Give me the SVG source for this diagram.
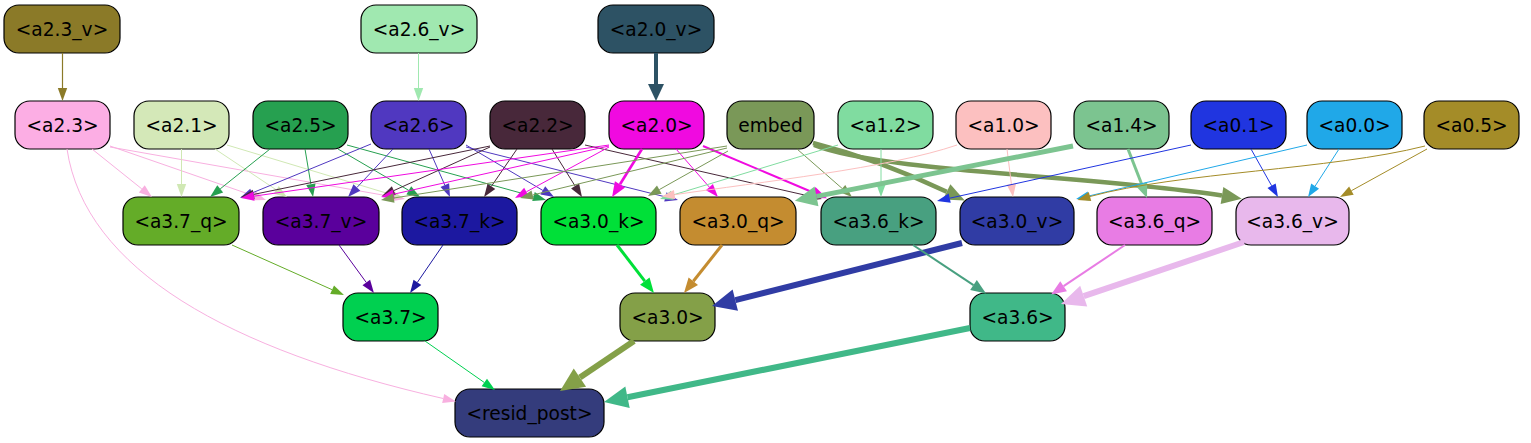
<svg xmlns="http://www.w3.org/2000/svg" width="1531" height="443" viewBox="0 0 1531 443">
<style>
.n rect{stroke:#000;stroke-width:1.2}
.n text{font-family:"DejaVu Sans","Liberation Sans",sans-serif;font-size:18.6px;text-anchor:middle;fill:#000}
.e path{fill:none}
marker{overflow:visible}
</style>
<defs>
<marker id="s23v" markerUnits="userSpaceOnUse" orient="auto" markerWidth="1" markerHeight="1"><path d="M0,-4.7L13,0L0,4.7z" fill="#8b7a28"/></marker>
<marker id="s26v" markerUnits="userSpaceOnUse" orient="auto" markerWidth="1" markerHeight="1"><path d="M0,-4.7L13,0L0,4.7z" fill="#a0e8b0"/></marker>
<marker id="t20v" markerUnits="userSpaceOnUse" orient="auto" markerWidth="1" markerHeight="1"><path d="M0,-8L17,0L0,8z" fill="#2d5264"/></marker>
<marker id="s23" markerUnits="userSpaceOnUse" orient="auto" markerWidth="1" markerHeight="1"><path d="M0,-4.7L13,0L0,4.7z" fill="#f8b0e0"/></marker>
<marker id="s21" markerUnits="userSpaceOnUse" orient="auto" markerWidth="1" markerHeight="1"><path d="M0,-4.7L13,0L0,4.7z" fill="#d0e8b4"/></marker>
<marker id="s25" markerUnits="userSpaceOnUse" orient="auto" markerWidth="1" markerHeight="1"><path d="M0,-4.7L13,0L0,4.7z" fill="#26a050"/></marker>
<marker id="s26" markerUnits="userSpaceOnUse" orient="auto" markerWidth="1" markerHeight="1"><path d="M0,-4.7L13,0L0,4.7z" fill="#5038c0"/></marker>
<marker id="s22" markerUnits="userSpaceOnUse" orient="auto" markerWidth="1" markerHeight="1"><path d="M0,-4.7L13,0L0,4.7z" fill="#48283a"/></marker>
<marker id="s20" markerUnits="userSpaceOnUse" orient="auto" markerWidth="1" markerHeight="1"><path d="M0,-4.7L13,0L0,4.7z" fill="#f00ae0"/></marker>
<marker id="m20" markerUnits="userSpaceOnUse" orient="auto" markerWidth="1" markerHeight="1"><path d="M0,-6L15,0L0,6z" fill="#f00ae0"/></marker>
<marker id="sem" markerUnits="userSpaceOnUse" orient="auto" markerWidth="1" markerHeight="1"><path d="M0,-4.7L13,0L0,4.7z" fill="#7a9858"/></marker>
<marker id="tem" markerUnits="userSpaceOnUse" orient="auto" markerWidth="1" markerHeight="1"><path d="M0,-8.5L20,0L0,8.5z" fill="#7a9858"/></marker>
<marker id="s12" markerUnits="userSpaceOnUse" orient="auto" markerWidth="1" markerHeight="1"><path d="M0,-4.7L13,0L0,4.7z" fill="#80dca0"/></marker>
<marker id="s10" markerUnits="userSpaceOnUse" orient="auto" markerWidth="1" markerHeight="1"><path d="M0,-4.7L13,0L0,4.7z" fill="#fcc0c0"/></marker>
<marker id="m14" markerUnits="userSpaceOnUse" orient="auto" markerWidth="1" markerHeight="1"><path d="M0,-6L15,0L0,6z" fill="#7cc490"/></marker>
<marker id="t14" markerUnits="userSpaceOnUse" orient="auto" markerWidth="1" markerHeight="1"><path d="M0,-10L22,0L0,10z" fill="#7cc490"/></marker>
<marker id="s01" markerUnits="userSpaceOnUse" orient="auto" markerWidth="1" markerHeight="1"><path d="M0,-4.7L13,0L0,4.7z" fill="#2035e0"/></marker>
<marker id="s00" markerUnits="userSpaceOnUse" orient="auto" markerWidth="1" markerHeight="1"><path d="M0,-4.7L13,0L0,4.7z" fill="#20a8e8"/></marker>
<marker id="s05" markerUnits="userSpaceOnUse" orient="auto" markerWidth="1" markerHeight="1"><path d="M0,-4.7L13,0L0,4.7z" fill="#a48c28"/></marker>
<marker id="s37q" markerUnits="userSpaceOnUse" orient="auto" markerWidth="1" markerHeight="1"><path d="M0,-4.7L13,0L0,4.7z" fill="#64ac28"/></marker>
<marker id="s37v" markerUnits="userSpaceOnUse" orient="auto" markerWidth="1" markerHeight="1"><path d="M0,-4.7L13,0L0,4.7z" fill="#5a009c"/></marker>
<marker id="s37k" markerUnits="userSpaceOnUse" orient="auto" markerWidth="1" markerHeight="1"><path d="M0,-4.7L13,0L0,4.7z" fill="#1c18a0"/></marker>
<marker id="m30k" markerUnits="userSpaceOnUse" orient="auto" markerWidth="1" markerHeight="1"><path d="M0,-6L15,0L0,6z" fill="#00e038"/></marker>
<marker id="m30q" markerUnits="userSpaceOnUse" orient="auto" markerWidth="1" markerHeight="1"><path d="M0,-6L15,0L0,6z" fill="#c48c30"/></marker>
<marker id="t30v" markerUnits="userSpaceOnUse" orient="auto" markerWidth="1" markerHeight="1"><path d="M0,-11L24,0L0,11z" fill="#303ca4"/></marker>
<marker id="m36k" markerUnits="userSpaceOnUse" orient="auto" markerWidth="1" markerHeight="1"><path d="M0,-6L15,0L0,6z" fill="#48a080"/></marker>
<marker id="m36q" markerUnits="userSpaceOnUse" orient="auto" markerWidth="1" markerHeight="1"><path d="M0,-6L15,0L0,6z" fill="#e87ce4"/></marker>
<marker id="t36v" markerUnits="userSpaceOnUse" orient="auto" markerWidth="1" markerHeight="1"><path d="M0,-11L24,0L0,11z" fill="#e8b8ec"/></marker>
<marker id="s37" markerUnits="userSpaceOnUse" orient="auto" markerWidth="1" markerHeight="1"><path d="M0,-4.7L13,0L0,4.7z" fill="#00d050"/></marker>
<marker id="t30" markerUnits="userSpaceOnUse" orient="auto" markerWidth="1" markerHeight="1"><path d="M0,-11L24,0L0,11z" fill="#84a048"/></marker>
<marker id="t36" markerUnits="userSpaceOnUse" orient="auto" markerWidth="1" markerHeight="1"><path d="M0,-11L24,0L0,11z" fill="#40b888"/></marker>
</defs>
<rect width="1531" height="443" fill="#fff"/>
<g id="nodes">
<g id="a2.3_v" class="n"><rect x="4" y="5" width="116" height="48" rx="15" fill="#8b7a28"/><text x="62" y="35.5">&lt;a2.3_v&gt;</text></g>
<g id="a2.6_v" class="n"><rect x="361" y="5" width="116" height="48" rx="15" fill="#a0e8b0"/><text x="419" y="35.5">&lt;a2.6_v&gt;</text></g>
<g id="a2.0_v" class="n"><rect x="598" y="5" width="116" height="48" rx="15" fill="#2d5264"/><text x="656" y="35.5">&lt;a2.0_v&gt;</text></g>
<g id="a2.3" class="n"><rect x="15" y="101" width="95" height="48" rx="15" fill="#fcaee4"/><text x="62.5" y="131.5">&lt;a2.3&gt;</text></g>
<g id="a2.1" class="n"><rect x="134" y="101" width="95" height="48" rx="15" fill="#d4e8b8"/><text x="181.5" y="131.5">&lt;a2.1&gt;</text></g>
<g id="a2.5" class="n"><rect x="253" y="101" width="95" height="48" rx="15" fill="#26a050"/><text x="300.5" y="131.5">&lt;a2.5&gt;</text></g>
<g id="a2.6" class="n"><rect x="371" y="101" width="95" height="48" rx="15" fill="#5038c0"/><text x="418.5" y="131.5">&lt;a2.6&gt;</text></g>
<g id="a2.2" class="n"><rect x="490" y="101" width="95" height="48" rx="15" fill="#48283a"/><text x="537.5" y="131.5">&lt;a2.2&gt;</text></g>
<g id="a2.0" class="n"><rect x="609" y="101" width="95" height="48" rx="15" fill="#f00ae0"/><text x="656.5" y="131.5">&lt;a2.0&gt;</text></g>
<g id="embed" class="n"><rect x="727" y="101" width="87" height="48" rx="15" fill="#7a9858"/><text x="770.5" y="131.5">embed</text></g>
<g id="a1.2" class="n"><rect x="838" y="101" width="95" height="48" rx="15" fill="#80dca0"/><text x="885.5" y="131.5">&lt;a1.2&gt;</text></g>
<g id="a1.0" class="n"><rect x="956" y="101" width="95" height="48" rx="15" fill="#fcc0c0"/><text x="1003.5" y="131.5">&lt;a1.0&gt;</text></g>
<g id="a1.4" class="n"><rect x="1074" y="101" width="95" height="48" rx="15" fill="#7cc490"/><text x="1121.5" y="131.5">&lt;a1.4&gt;</text></g>
<g id="a0.1" class="n"><rect x="1191" y="101" width="95" height="48" rx="15" fill="#2035e0"/><text x="1238.5" y="131.5">&lt;a0.1&gt;</text></g>
<g id="a0.0" class="n"><rect x="1307" y="101" width="95" height="48" rx="15" fill="#20a8e8"/><text x="1354.5" y="131.5">&lt;a0.0&gt;</text></g>
<g id="a0.5" class="n"><rect x="1424" y="101" width="95" height="48" rx="15" fill="#a48c28"/><text x="1471.5" y="131.5">&lt;a0.5&gt;</text></g>
<g id="a3.7_q" class="n"><rect x="123" y="197" width="116" height="48" rx="15" fill="#64ac28"/><text x="181" y="227.5">&lt;a3.7_q&gt;</text></g>
<g id="a3.7_v" class="n"><rect x="263" y="197" width="116" height="48" rx="15" fill="#5a009c"/><text x="321" y="227.5">&lt;a3.7_v&gt;</text></g>
<g id="a3.7_k" class="n"><rect x="402" y="197" width="115" height="48" rx="15" fill="#1c18a0"/><text x="459.5" y="227.5">&lt;a3.7_k&gt;</text></g>
<g id="a3.0_k" class="n"><rect x="541" y="197" width="115" height="48" rx="15" fill="#00e038"/><text x="598.5" y="227.5">&lt;a3.0_k&gt;</text></g>
<g id="a3.0_q" class="n"><rect x="680" y="197" width="116" height="48" rx="15" fill="#c48c30"/><text x="738" y="227.5">&lt;a3.0_q&gt;</text></g>
<g id="a3.6_k" class="n"><rect x="821" y="197" width="115" height="48" rx="15" fill="#48a080"/><text x="878.5" y="227.5">&lt;a3.6_k&gt;</text></g>
<g id="a3.0_v" class="n"><rect x="960" y="197" width="114" height="48" rx="15" fill="#303ca4"/><text x="1017" y="227.5">&lt;a3.0_v&gt;</text></g>
<g id="a3.6_q" class="n"><rect x="1097" y="197" width="115" height="48" rx="15" fill="#e87ce4"/><text x="1154.5" y="227.5">&lt;a3.6_q&gt;</text></g>
<g id="a3.6_v" class="n"><rect x="1236" y="197" width="113" height="48" rx="15" fill="#e8b8ec"/><text x="1292.5" y="227.5">&lt;a3.6_v&gt;</text></g>
<g id="a3.7" class="n"><rect x="343" y="293" width="95" height="48" rx="15" fill="#00d050"/><text x="390.5" y="323.5">&lt;a3.7&gt;</text></g>
<g id="a3.0" class="n"><rect x="620" y="293" width="95" height="48" rx="15" fill="#84a048"/><text x="667.5" y="323.5">&lt;a3.0&gt;</text></g>
<g id="a3.6" class="n"><rect x="970" y="293" width="95" height="48" rx="15" fill="#40b888"/><text x="1017.5" y="323.5">&lt;a3.6&gt;</text></g>
<g id="resid_post" class="n"><rect x="455" y="389" width="149" height="48" rx="15" fill="#343c7c"/><text x="529.5" y="419.5">&lt;resid_post&gt;</text></g>
</g>
<g id="connectors" class="e">
<path d="M62.5,53L62.5,88" stroke="#8b7a28" stroke-width="1.2" marker-end="url(#s23v)"/>
<path d="M418.5,53L418.5,88" stroke="#a0e8b0" stroke-width="1" marker-end="url(#s26v)"/>
<path d="M656,53L656,84" stroke="#2d5264" stroke-width="4" marker-end="url(#t20v)"/>
<path d="M92,149L141.8,188.9" stroke="#f8b0e0" stroke-width="1" marker-end="url(#s23)"/>
<path d="M110,146L253.7,195.8" stroke="#f8b0e0" stroke-width="1" marker-end="url(#s23)"/>
<path d="M110,147L392.2,196.7" stroke="#f8b0e0" stroke-width="1" marker-end="url(#s23)"/>
<path d="M67,149C85,270 230,350 443.2,398.5" stroke="#f8b0e0" stroke-width="1" marker-end="url(#s23)"/>
<path d="M181.5,149L181.5,184" stroke="#d0e8b4" stroke-width="1" marker-end="url(#s21)"/>
<path d="M215,149L276.2,189.8" stroke="#d0e8b4" stroke-width="1" marker-end="url(#s21)"/>
<path d="M227,145L390.5,194.3" stroke="#d0e8b4" stroke-width="1" marker-end="url(#s21)"/>
<path d="M270,149L220.2,188.9" stroke="#26a050" stroke-width="1" marker-end="url(#s25)"/>
<path d="M305,149L310.9,184.2" stroke="#26a050" stroke-width="1" marker-end="url(#s25)"/>
<path d="M338,149L408.8,190.4" stroke="#26a050" stroke-width="1" marker-end="url(#s25)"/>
<path d="M347,145L533.5,196.5" stroke="#26a050" stroke-width="1" marker-end="url(#s25)"/>
<path d="M371,144L252,193" stroke="#5038c0" stroke-width="1" marker-end="url(#s26)"/>
<path d="M393,149L356.9,187.5" stroke="#5038c0" stroke-width="1" marker-end="url(#s26)"/>
<path d="M429,149L444.8,185.1" stroke="#5038c0" stroke-width="1" marker-end="url(#s26)"/>
<path d="M466,145L542.8,190.4" stroke="#5038c0" stroke-width="1" marker-end="url(#s26)"/>
<path d="M466,147L665.4,196.9" stroke="#5038c0" stroke-width="1" marker-end="url(#s26)"/>
<path d="M490,146L253.7,194.4" stroke="#48283a" stroke-width="1" marker-end="url(#s22)"/>
<path d="M490,147L393.8,190.6" stroke="#48283a" stroke-width="1" marker-end="url(#s22)"/>
<path d="M517,149L491.4,186.3" stroke="#48283a" stroke-width="1" marker-end="url(#s22)"/>
<path d="M552,149L575.1,186" stroke="#48283a" stroke-width="1" marker-end="url(#s22)"/>
<path d="M585,145L809.3,196.1" stroke="#48283a" stroke-width="1" marker-end="url(#s22)"/>
<path d="M609,145L253.9,196.2" stroke="#f00ae0" stroke-width="1" marker-end="url(#s20)"/>
<path d="M609,146L393.7,194.2" stroke="#f00ae0" stroke-width="1" marker-end="url(#s20)"/>
<path d="M609,147L526.4,191.8" stroke="#f00ae0" stroke-width="1" marker-end="url(#s20)"/>
<path d="M642,149L620,184.3" stroke="#f00ae0" stroke-width="2.6" marker-end="url(#m20)"/>
<path d="M676,149L709.4,187.2" stroke="#f00ae0" stroke-width="1" marker-end="url(#s20)"/>
<path d="M703,146L813.1,192.5" stroke="#f00ae0" stroke-width="2" marker-end="url(#m20)"/>
<path d="M727,146L393.8,198" stroke="#7a9858" stroke-width="1" marker-end="url(#sem)"/>
<path d="M727,148L532.6,195" stroke="#7a9858" stroke-width="1" marker-end="url(#sem)"/>
<path d="M728,151L659.3,189.6" stroke="#7a9858" stroke-width="1" marker-end="url(#sem)"/>
<path d="M797,149L842.2,188.5" stroke="#7a9858" stroke-width="1" marker-end="url(#sem)"/>
<path d="M813,143Q880,160 946.7,191.8" stroke="#7a9858" stroke-width="4.5" marker-end="url(#tem)"/>
<path d="M814,145C880,172 1100,176 1222,195.5" stroke="#7a9858" stroke-width="4.5" marker-end="url(#tem)"/>
<path d="M881,149L881,184" stroke="#80dca0" stroke-width="1" marker-end="url(#s12)"/>
<path d="M838,145L672.4,195.2" stroke="#80dca0" stroke-width="1" marker-end="url(#s12)"/>
<path d="M1007,149L1011.4,184.1" stroke="#fcc0c0" stroke-width="1" marker-end="url(#s10)"/>
<path d="M957,145C890,168 760,182 674.6,194.7" stroke="#fcc0c0" stroke-width="1" marker-end="url(#s10)"/>
<path d="M1128,149L1141.6,184" stroke="#7cc490" stroke-width="3" marker-end="url(#m14)"/>
<path d="M1073,146Q950,170 816.5,196.4" stroke="#7cc490" stroke-width="5" marker-end="url(#t14)"/>
<path d="M1251,149L1271.6,185.7" stroke="#2035e0" stroke-width="1" marker-end="url(#s01)"/>
<path d="M1191,145L949.7,198.2" stroke="#2035e0" stroke-width="1" marker-end="url(#s01)"/>
<path d="M1339,149L1315.1,186.1" stroke="#20a8e8" stroke-width="1" marker-end="url(#s00)"/>
<path d="M1307,145L1088.7,196" stroke="#20a8e8" stroke-width="1" marker-end="url(#s00)"/>
<path d="M1427,149L1351.4,190.7" stroke="#a48c28" stroke-width="1" marker-end="url(#s05)"/>
<path d="M1425,146C1330,170 1180,172 1090,196.5" stroke="#a48c28" stroke-width="1" marker-end="url(#s05)"/>
<path d="M232,245L332.1,289.7" stroke="#64ac28" stroke-width="1" marker-end="url(#s37q)"/>
<path d="M339,245L366.3,282.5" stroke="#5a009c" stroke-width="1" marker-end="url(#s37v)"/>
<path d="M443,245L417.4,282.3" stroke="#1c18a0" stroke-width="1" marker-end="url(#s37k)"/>
<path d="M617,245L644.8,281.1" stroke="#00e038" stroke-width="3" marker-end="url(#m30k)"/>
<path d="M722,245L693.3,281.2" stroke="#c48c30" stroke-width="3" marker-end="url(#m30q)"/>
<path d="M962,243L735.3,300.1" stroke="#303ca4" stroke-width="6" marker-end="url(#t30v)"/>
<path d="M913,245L973.5,285.1" stroke="#48a080" stroke-width="2" marker-end="url(#m36k)"/>
<path d="M1125,245L1063.6,286.2" stroke="#e87ce4" stroke-width="2" marker-end="url(#m36q)"/>
<path d="M1244,242L1083.7,296.2" stroke="#e8b8ec" stroke-width="6" marker-end="url(#t36v)"/>
<path d="M425,341L484.3,382.5" stroke="#00d050" stroke-width="1" marker-end="url(#s37)"/>
<path d="M634,341L579.9,377.6" stroke="#84a048" stroke-width="6" marker-end="url(#t30)"/>
<path d="M970,328L627.5,397.3" stroke="#40b888" stroke-width="6" marker-end="url(#t36)"/>
</g>
</svg>
